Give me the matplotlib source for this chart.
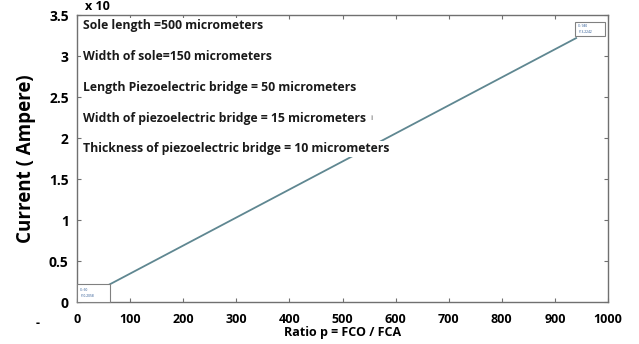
import matplotlib
matplotlib.use("Agg")
import matplotlib.pyplot as plt
from matplotlib.patches import Rectangle

plt.rcParams['font.family'] = ['Open Sans', 'DejaVu Sans']

ratio = [60, 940]
current = [0.21, 3.22]
xticks = [0, 100, 200, 300, 400, 500, 600, 700, 800, 900, 1000]
yticks = [0, 0.5, 1, 1.5, 2, 2.5, 3, 3.5]
ytick_labels = ['0', '0.5', '1', '1.5', '2', '2.5', '3', '3.5']
notes = ["Sole length =500 micrometers",
         "Width of sole=150 micrometers",
         "Length Piezoelectric bridge = 50 micrometers",
         "Width of piezoelectric bridge = 15 micrometers",
         "Thickness of piezoelectric bridge = 10 micrometers"]
note_y = [3.37, 2.99, 2.62, 2.24, 1.87]

fig = plt.figure(figsize=(6.39, 3.44), dpi=100)
ax = fig.add_axes([0.1205, 0.122, 0.831, 0.834])

ax.plot(ratio, current, color='#5f8791', lw=1.3, zorder=2)

ax.set_xlim(0, 1000)
ax.set_ylim(0, 3.5)
ax.set_xticks(xticks)
ax.set_xticklabels([str(v) for v in xticks], fontsize=9, fontweight='bold')
ax.set_yticks(yticks)
ax.set_yticklabels(ytick_labels, fontsize=10, fontweight='bold')
ax.tick_params(direction='in', top=True, right=True, length=3, width=0.8,
               color='#707070')
ax.tick_params(axis='x', pad=8)
ax.tick_params(axis='y', pad=6)
for s in ax.spines.values():
    s.set_color('#707070')
    s.set_linewidth(1.0)

for t, y in zip(notes, note_y):
    ax.text(11, y, t, fontsize=8.8, fontweight='bold', va='center', ha='left',
            color='#1a1a1a', zorder=3,
            bbox=dict(facecolor='white', edgecolor='none', pad=1))
ax.text(552, 2.24, 'i', fontsize=6, va='center', color='#555555')

# data tips
ax.add_patch(Rectangle((0, 0.0), 62, 0.22, facecolor='white', edgecolor='#808080',
                       lw=0.8, zorder=4, clip_on=False))
ax.text(6, 0.15, 'X: 60', fontsize=2.3, color='#1f4e8c', zorder=5, va='center')
ax.text(6, 0.07, 'Y: 0.2058', fontsize=2.3, color='#1f4e8c', zorder=5, va='center')
ax.add_patch(Rectangle((938, 3.24), 56, 0.18, facecolor='white', edgecolor='#808080',
                       lw=0.8, zorder=4))
ax.text(943, 3.37, 'X: 940', fontsize=2.3, color='#1f4e8c', zorder=5, va='center')
ax.text(943, 3.29, 'Y: 3.2242', fontsize=2.3, color='#1f4e8c', zorder=5, va='center')

ax.set_ylabel('Current ( Ampere)', fontsize=13.5, fontweight='bold', labelpad=9)
ax.set_xlabel('Ratio p = FCO / FCA', fontsize=9, fontweight='bold', labelpad=0)

fig.text(0.133, 0.999, 'x 10', fontsize=9, fontweight='bold', va='top')
fig.text(0.055, 0.06, '-', fontsize=9, fontweight='bold', va='center')

fig.savefig('out.png', dpi=100)
